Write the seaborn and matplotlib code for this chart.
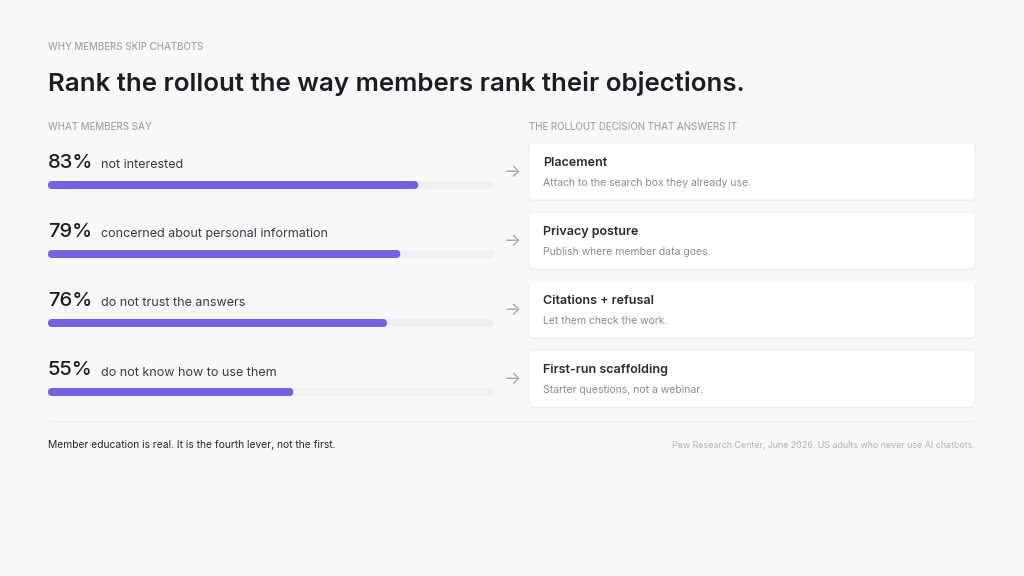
import matplotlib
matplotlib.use('Agg')
import matplotlib.pyplot as plt
from matplotlib.patches import FancyBboxPatch
import seaborn as sns
import pandas as pd

# 数据
shares = [83, 79, 76, 55]
reasons = ['not interested', 'concerned about personal information',
           'do not trust the answers', 'do not know how to use them']
decisions = ['Placement', 'Privacy posture', 'Citations + refusal', 'First-run scaffolding']
decision_notes = ['Attach to the search box they already use.',
                  'Publish where member data goes.',
                  'Let them check the work.',
                  'Starter questions, not a webinar.']

BG = '#f8f8fa'
BAR = '#7462e0'
TRACK = '#f0f0f3'
INK = '#1d1d21'
MUTED = '#a4a4ab'

sns.set_theme(style='white')
plt.rcParams['font.family'] = ['Inter', 'DejaVu Sans']

W, H = 1024, 576
fig = plt.figure(figsize=(W / 100, H / 100), dpi=100, facecolor=BG)

# 整页画布（像素坐标）
canvas = fig.add_axes([0, 0, 1, 1], zorder=0)
canvas.set_xlim(0, W)
canvas.set_ylim(H, 0)
canvas.axis('off')


def px_box(x0, y0, x1, y1):
    return [x0 / W, 1 - y1 / H, (x1 - x0) / W, (y1 - y0) / H]


n = len(shares)
row_pitch = 69
first_bar_y = 185
track_x0, track_x1 = 48, 494
bar_h = 8

# 条形图
bar_ax = fig.add_axes(px_box(track_x0, first_bar_y - row_pitch / 2,
                             track_x1, first_bar_y + row_pitch * (n - 0.5)), zorder=2)
df = pd.DataFrame({'reason': reasons, 'share': shares})
df['track'] = 100
sns.barplot(data=df, x='track', y='reason', color=TRACK, width=bar_h / row_pitch,
            saturation=1, ax=bar_ax)
sns.barplot(data=df, x='share', y='reason', color=BAR, width=bar_h / row_pitch,
            saturation=1, ax=bar_ax)
bar_ax.set_xlim(0, 100)
bar_ax.axis('off')
bar_ax.patch.set_alpha(0)

# 圆角
px_per_x = (track_x1 - track_x0) / 100
aspect = px_per_x / row_pitch
for p in list(bar_ax.patches):
    x, y, w, h = p.get_x(), p.get_y(), p.get_width(), p.get_height()
    fc = p.get_facecolor()
    p.remove()
    bar_ax.add_patch(FancyBboxPatch((x, y), w, h,
                                    boxstyle=f'round,pad=0,rounding_size={4 / px_per_x}',
                                    mutation_aspect=aspect, fc=fc, ec='none'))

# 标题
canvas.text(48, 47, 'WHY MEMBERS SKIP CHATBOTS', fontsize=7, color=MUTED,
            va='center', fontweight='medium')
canvas.text(48, 84, 'Rank the rollout the way members rank their objections.',
            fontsize=18.6, color=INK, va='center', fontweight='semibold')
canvas.text(48, 127, 'WHAT MEMBERS SAY', fontsize=7, color=MUTED, va='center',
            fontweight='medium')
canvas.text(529, 127, 'THE ROLLOUT DECISION THAT ANSWERS IT', fontsize=7, color=MUTED,
            va='center', fontweight='medium')

for i in range(n):
    yb = first_bar_y + i * row_pitch
    canvas.text(48, yb - 22, f'{shares[i]}%', fontsize=14.5, color=INK, va='center',
                fontweight='medium')
    canvas.text(101, yb - 19.5, reasons[i], fontsize=9, color='#3a3a40', va='center')
    canvas.text(512, yb - 13, '→', fontsize=13, color='#a8a8ae', va='center', ha='center')

    top = 143 + i * row_pitch
    canvas.add_patch(FancyBboxPatch((529, top + 1), 446, 57,
                                    boxstyle='round,pad=0,rounding_size=4',
                                    fc='#ededf0', ec='none', zorder=1))
    canvas.add_patch(FancyBboxPatch((529, top), 446, 57,
                                    boxstyle='round,pad=0,rounding_size=4',
                                    fc='white', ec='#f0f0f2', lw=0.6, zorder=2))
    canvas.text(543, top + 20, decisions[i], fontsize=9, color='#2a2a30', va='center',
                fontweight='semibold', zorder=3)
    canvas.text(543, top + 40, decision_notes[i], fontsize=7.5, color='#8a8a92',
                va='center', zorder=3)

canvas.plot([48, 975], [421, 421], color='#eeeef1', lw=0.8)
canvas.text(48, 445, 'Member education is real. It is the fourth lever, not the first.',
            fontsize=7.4, color='#26262b', va='center')
canvas.text(975, 445, 'Pew Research Center, June 2026. US adults who never use AI chatbots.',
            fontsize=6.4, color='#b2b2b8', va='center', ha='right')

fig.savefig('out.png', dpi=100, facecolor=BG)
